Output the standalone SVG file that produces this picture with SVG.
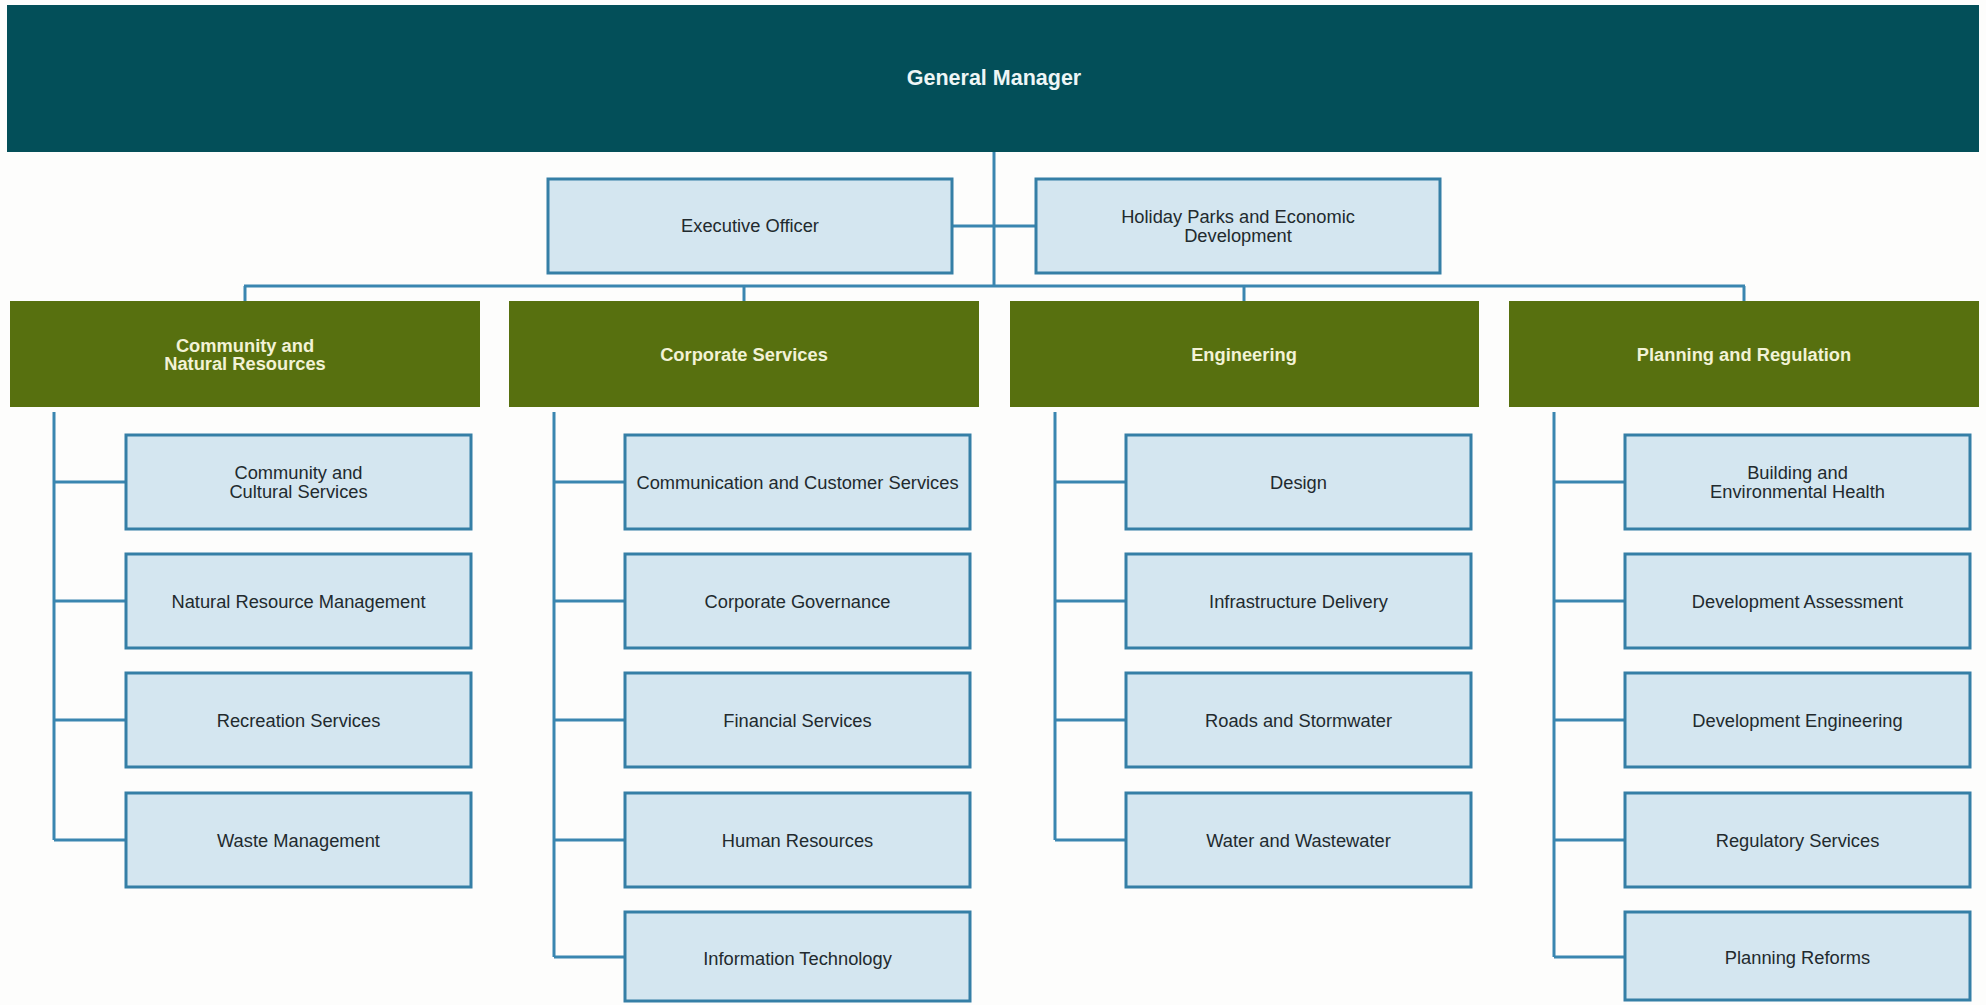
<svg xmlns="http://www.w3.org/2000/svg" width="1986" height="1005" viewBox="0 0 1986 1005">
  <style>
    .bg { fill: #fdfdfc; }
    .top { fill: #034f59; }
    .top-t { font-family: "Liberation Sans", Arial, sans-serif; font-weight: bold; font-size: 21.5px; fill: #eef6f6; text-anchor: middle; }
    .div { fill: #57700f; }
    .div-t { font-family: "Liberation Sans", Arial, sans-serif; font-weight: bold; font-size: 18.3px; fill: #f2f2d6; text-anchor: middle; }
    .unit { fill: #d4e6f0; stroke: #357fa6; stroke-width: 3; }
    .unit-t { font-family: "Liberation Sans", Arial, sans-serif; font-size: 18.3px; fill: #222a2e; text-anchor: middle; }
    .link { fill: none; stroke: #3a86b0; stroke-width: 3; }
  </style>

  <rect class="bg" x="0" y="0" width="1986" height="1005"/>

  <!-- connectors -->
  <g id="connectors">
    <line class="link" x1="994" y1="152" x2="994" y2="286"/>
    <line class="link" x1="952" y1="226" x2="1036" y2="226"/>
    <line class="link" x1="244" y1="286" x2="1745" y2="286"/>
    <line class="link" x1="245" y1="286" x2="245" y2="301"/>
    <line class="link" x1="744" y1="286" x2="744" y2="301"/>
    <line class="link" x1="1244" y1="286" x2="1244" y2="301"/>
    <line class="link" x1="1744" y1="286" x2="1744" y2="301"/>

    <!-- Community and Natural Resources -->
    <path class="link" d="M54 412 V840 M54 482 H126 M54 601 H126 M54 720 H126 M54 840 H126"/>
    <!-- Corporate Services -->
    <path class="link" d="M554 412 V957 M554 482 H625 M554 601 H625 M554 720 H625 M554 840 H625 M554 957 H625"/>
    <!-- Engineering -->
    <path class="link" d="M1055 412 V840 M1055 482 H1126 M1055 601 H1126 M1055 720 H1126 M1055 840 H1126"/>
    <!-- Planning and Regulation -->
    <path class="link" d="M1554 412 V957 M1554 482 H1625 M1554 601 H1625 M1554 720 H1625 M1554 840 H1625 M1554 957 H1625"/>
  </g>

  <!-- top level -->
  <g id="general-manager">
    <rect class="top" x="7" y="5" width="1972" height="147"/>
    <text class="top-t" x="994" y="85">General Manager</text>
  </g>

  <g id="executive-officer">
    <rect class="unit" x="548" y="179" width="404" height="94"/>
    <text class="unit-t" x="750" y="232">Executive Officer</text>
  </g>

  <g id="holiday-parks">
    <rect class="unit" x="1036" y="179" width="404" height="94"/>
    <text class="unit-t" x="1238" y="222.5">Holiday Parks and Economic</text>
    <text class="unit-t" x="1238" y="241.5">Development</text>
  </g>

  <!-- divisions -->
  <g id="community-natural-resources">
    <rect class="div" x="10" y="301" width="470" height="106"/>
    <text class="div-t" x="245" y="351.5">Community and</text>
    <text class="div-t" x="245" y="369.5">Natural Resources</text>
  </g>
  <g id="corporate-services">
    <rect class="div" x="509" y="301" width="470" height="106"/>
    <text class="div-t" x="744" y="360.5">Corporate Services</text>
  </g>
  <g id="engineering">
    <rect class="div" x="1010" y="301" width="469" height="106"/>
    <text class="div-t" x="1244" y="360.5">Engineering</text>
  </g>
  <g id="planning-regulation">
    <rect class="div" x="1509" y="301" width="470" height="106"/>
    <text class="div-t" x="1744" y="360.5">Planning and Regulation</text>
  </g>

  <!-- Community and Natural Resources units -->
  <g id="community-cultural">
    <rect class="unit" x="126" y="435" width="345" height="94"/>
    <text class="unit-t" x="298.5" y="479">Community and</text>
    <text class="unit-t" x="298.5" y="498">Cultural Services</text>
  </g>
  <g id="natural-resource-management">
    <rect class="unit" x="126" y="554" width="345" height="94"/>
    <text class="unit-t" x="298.5" y="607.5">Natural Resource Management</text>
  </g>
  <g id="recreation-services">
    <rect class="unit" x="126" y="673" width="345" height="94"/>
    <text class="unit-t" x="298.5" y="726.5">Recreation Services</text>
  </g>
  <g id="waste-management">
    <rect class="unit" x="126" y="793" width="345" height="94"/>
    <text class="unit-t" x="298.5" y="846.5">Waste Management</text>
  </g>

  <!-- Corporate Services units -->
  <g id="communication-customer">
    <rect class="unit" x="625" y="435" width="345" height="94"/>
    <text class="unit-t" x="797.5" y="488.5">Communication and Customer Services</text>
  </g>
  <g id="corporate-governance">
    <rect class="unit" x="625" y="554" width="345" height="94"/>
    <text class="unit-t" x="797.5" y="607.5">Corporate Governance</text>
  </g>
  <g id="financial-services">
    <rect class="unit" x="625" y="673" width="345" height="94"/>
    <text class="unit-t" x="797.5" y="726.5">Financial Services</text>
  </g>
  <g id="human-resources">
    <rect class="unit" x="625" y="793" width="345" height="94"/>
    <text class="unit-t" x="797.5" y="846.5">Human Resources</text>
  </g>
  <g id="information-technology">
    <rect class="unit" x="625" y="912" width="345" height="89"/>
    <text class="unit-t" x="797.5" y="964.5">Information Technology</text>
  </g>

  <!-- Engineering units -->
  <g id="design">
    <rect class="unit" x="1126" y="435" width="345" height="94"/>
    <text class="unit-t" x="1298.5" y="488.5">Design</text>
  </g>
  <g id="infrastructure-delivery">
    <rect class="unit" x="1126" y="554" width="345" height="94"/>
    <text class="unit-t" x="1298.5" y="607.5">Infrastructure Delivery</text>
  </g>
  <g id="roads-stormwater">
    <rect class="unit" x="1126" y="673" width="345" height="94"/>
    <text class="unit-t" x="1298.5" y="726.5">Roads and Stormwater</text>
  </g>
  <g id="water-wastewater">
    <rect class="unit" x="1126" y="793" width="345" height="94"/>
    <text class="unit-t" x="1298.5" y="846.5">Water and Wastewater</text>
  </g>

  <!-- Planning and Regulation units -->
  <g id="building-environmental-health">
    <rect class="unit" x="1625" y="435" width="345" height="94"/>
    <text class="unit-t" x="1797.5" y="479">Building and</text>
    <text class="unit-t" x="1797.5" y="498">Environmental Health</text>
  </g>
  <g id="development-assessment">
    <rect class="unit" x="1625" y="554" width="345" height="94"/>
    <text class="unit-t" x="1797.5" y="607.5">Development Assessment</text>
  </g>
  <g id="development-engineering">
    <rect class="unit" x="1625" y="673" width="345" height="94"/>
    <text class="unit-t" x="1797.5" y="726.5">Development Engineering</text>
  </g>
  <g id="regulatory-services">
    <rect class="unit" x="1625" y="793" width="345" height="94"/>
    <text class="unit-t" x="1797.5" y="846.5">Regulatory Services</text>
  </g>
  <g id="planning-reforms">
    <rect class="unit" x="1625" y="912" width="345" height="88"/>
    <text class="unit-t" x="1797.5" y="963.5">Planning Reforms</text>
  </g>
</svg>
